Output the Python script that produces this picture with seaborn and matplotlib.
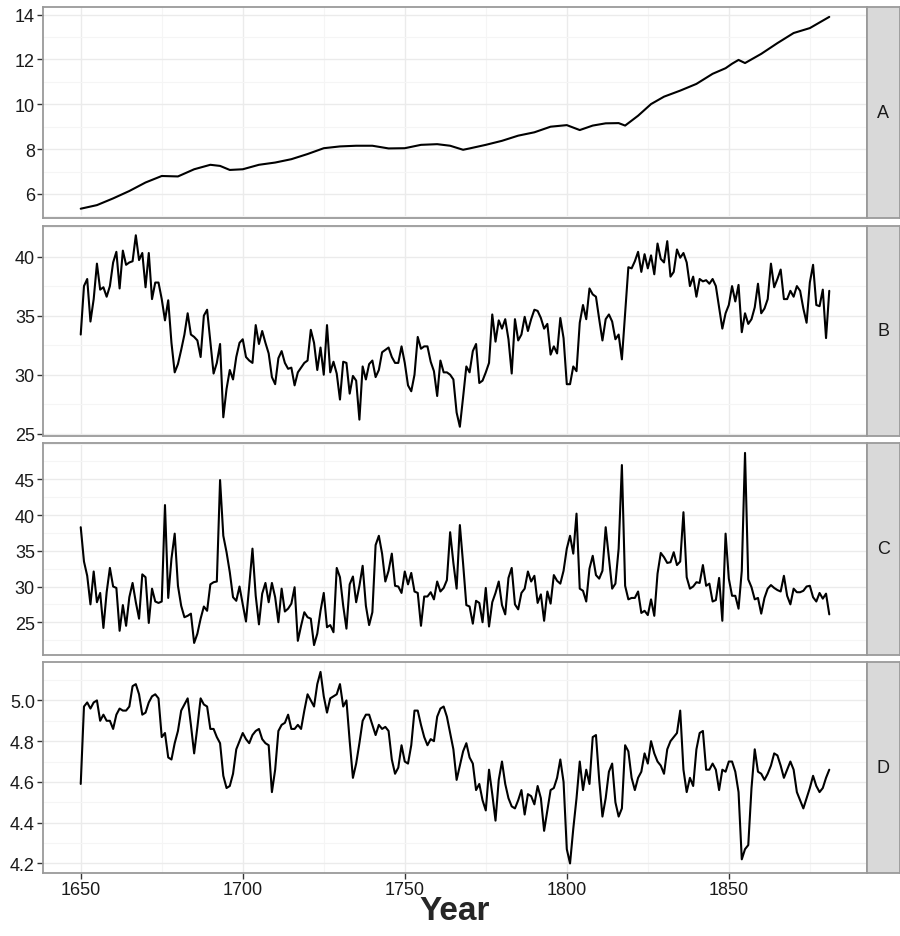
import numpy as np
import pandas as pd
import matplotlib
matplotlib.use("Agg")
import matplotlib.pyplot as plt
import seaborn as sns
from matplotlib.ticker import MultipleLocator

# years for the noisy series B, C, D (one value per year)
years = np.arange(1650, 1882)

# series A is smooth, read every few years
a_years = [1650, 1655, 1660, 1665, 1670, 1675, 1680, 1685, 1690, 1693,
           1696, 1700, 1705, 1710, 1715, 1720, 1725, 1730, 1735, 1740,
           1745, 1750, 1755, 1760, 1764, 1768, 1770, 1775, 1780, 1785,
           1790, 1795, 1800, 1804, 1808, 1812, 1816, 1818, 1822, 1826,
           1830, 1835, 1840, 1845, 1849, 1851, 1853, 1855, 1860, 1865,
           1870, 1875, 1881]
a_vals = [5.34, 5.50, 5.80, 6.13, 6.51, 6.80, 6.78, 7.10, 7.30, 7.25,
          7.07, 7.10, 7.30, 7.40, 7.55, 7.78, 8.04, 8.12, 8.15, 8.15,
          8.03, 8.04, 8.19, 8.22, 8.15, 7.97, 8.03, 8.19, 8.37, 8.60,
          8.75, 9.00, 9.07, 8.85, 9.05, 9.15, 9.16, 9.05, 9.49, 10.01,
          10.34, 10.61, 10.91, 11.36, 11.61, 11.81, 11.98, 11.84, 12.25, 12.73,
          13.18, 13.40, 13.90]

b_vals = [33.4, 37.5, 38.1, 34.5, 36.4, 39.4, 37.2, 37.4, 36.6, 37.5,
          39.5, 40.4, 37.3, 40.5, 39.3, 39.5, 39.6, 41.8, 39.7, 40.3,
          37.4, 40.3, 36.4, 37.8, 37.8, 36.4, 34.6, 36.3, 32.7, 30.2,
          30.9, 32.1, 33.4, 35.2, 33.4, 33.2, 32.9, 31.5, 35.0, 35.5,
          32.8, 30.1, 31.0, 32.6, 26.4, 28.8, 30.4, 29.6, 31.5, 32.7,
          33.0, 31.5, 31.2, 31.0, 34.2, 32.6, 33.7, 32.7, 31.8, 29.8,
          29.2, 31.4, 32.0, 31.0, 30.5, 30.6, 29.1, 30.2, 30.6, 31.0,
          31.2, 33.8, 32.7, 30.4, 32.3, 30.0, 34.2, 30.2, 31.1, 30.1,
          27.9, 31.1, 31.0, 28.4, 29.9, 29.5, 26.2, 30.7, 29.6, 30.9,
          31.2, 29.8, 30.4, 31.9, 32.1, 32.3, 31.5, 31.0, 31.0, 32.4,
          31.0, 29.1, 28.6, 30.0, 33.2, 32.2, 32.4, 32.4, 31.1, 30.3,
          28.2, 31.2, 30.2, 30.2, 30.0, 29.6, 26.8, 25.6,
          28.1, 30.7, 30.2, 32.0, 32.6, 29.3, 29.5, 30.2, 31.0, 35.1,
          32.8, 34.6, 33.9, 34.7, 33.0, 30.1, 34.7, 32.9, 33.4, 34.9,
          33.7, 34.7, 35.5, 35.4, 34.8, 33.9, 34.3, 31.7, 32.4, 31.8,
          34.8, 33.1, 29.2, 29.2, 30.7, 30.3, 34.4, 35.9, 34.7, 37.3,
          36.8, 36.6, 34.7, 32.9, 34.7, 35.1, 34.5, 33.0, 33.4, 31.3,
          35.2, 39.1, 39.0, 39.6, 40.4, 38.7, 40.2, 39.0, 40.1, 38.5,
          41.1, 39.8, 39.5, 41.3, 38.3, 38.7, 40.6, 39.9, 40.3, 39.5,
          37.5, 38.3, 36.6, 38.1, 37.9, 38.0, 37.7, 38.1, 37.5, 35.7,
          33.9, 35.2, 35.9, 37.5, 36.2, 37.6, 33.6, 35.2, 34.3, 34.7,
          35.7, 37.7, 35.2, 35.6, 36.4, 39.4, 37.4, 38.1, 38.9, 36.4,
          36.4, 37.1, 36.6, 37.5, 37.1, 35.6, 34.4, 37.8, 39.3, 35.9,
          35.8, 37.2, 33.1, 37.1]

c_vals = [38.3, 33.5, 31.5, 27.5, 32.1, 27.8, 29.1, 24.2, 29.2, 32.6,
          30.0, 29.8, 23.8, 27.4, 24.5, 28.5, 30.5, 27.8, 25.5, 31.7,
          31.3, 24.9, 29.7, 27.9, 27.7, 27.9, 41.4, 28.4, 33.9, 37.4,
          30.1, 27.3, 25.7, 25.9, 26.2, 22.1, 23.4, 25.5, 27.2, 26.6,
          30.3, 30.6, 30.7, 44.9, 37.1, 34.8, 32.0, 28.5, 28.0, 30.0,
          27.5, 25.1, 30.1, 35.3, 28.7, 24.7, 29.0, 30.5, 27.8, 30.5,
          28.5, 25.0, 29.7, 26.5, 26.9, 27.6, 29.9, 22.4, 24.5, 26.4,
          25.7, 25.5, 21.8, 23.4, 26.6, 29.1, 24.3, 24.6, 23.6, 32.6,
          31.3, 27.3, 24.1, 30.3, 31.4, 27.8, 30.1, 32.9, 27.3, 24.6,
          26.4, 35.8, 37.1, 34.6, 30.7, 32.2, 34.6, 30.1, 30.0, 29.1,
          32.1, 30.3, 31.9, 29.3, 29.1, 24.5, 28.6, 28.6, 29.2, 28.2,
          30.7, 29.3, 29.8, 30.9, 37.6, 33.3, 29.7, 38.6,
          33.2, 27.4, 27.2, 24.8, 28.0, 27.7, 25.0, 29.8, 24.4, 27.8,
          29.1, 30.7, 27.4, 26.1, 31.2, 32.6, 27.5, 26.8, 29.1, 29.7,
          32.1, 30.7, 31.5, 27.7, 28.9, 25.2, 29.3, 27.6, 31.6, 30.8,
          30.4, 32.2, 35.3, 37.1, 34.6, 40.2, 29.7, 29.4, 27.9, 32.5,
          34.3, 31.6, 31.1, 32.2, 38.3, 34.0, 29.7, 30.4, 35.3, 47.0,
          30.1, 28.2, 28.4, 28.4, 29.3, 26.3, 26.6, 26.0, 28.2, 25.9,
          31.8, 34.7, 34.1, 33.3, 33.4, 34.8, 33.0, 33.5, 40.4, 31.3,
          29.7, 30.0, 30.6, 30.5, 33.0, 30.1, 30.4, 27.9, 28.1, 31.2,
          25.2, 37.4, 31.1, 28.7, 28.7, 26.9, 32.2, 48.7, 31.0, 29.9,
          28.2, 28.4, 26.2, 28.4, 29.7, 30.2, 29.8, 29.5, 29.3, 31.5,
          28.7, 27.5, 29.7, 29.2, 29.2, 29.4, 30.0, 30.1, 28.5, 27.9,
          29.1, 28.3, 29.0, 26.1]

d_vals = [4.59, 4.97, 4.99, 4.96, 4.99, 5.00, 4.90, 4.93, 4.90, 4.90,
          4.86, 4.93, 4.96, 4.95, 4.95, 4.97, 5.07, 5.08, 5.03, 4.93,
          4.94, 4.99, 5.02, 5.03, 5.01, 4.82, 4.84, 4.72, 4.71, 4.79,
          4.85, 4.95, 4.98, 5.01, 4.88, 4.74, 4.87, 5.01, 4.98, 4.97,
          4.86, 4.86, 4.82, 4.79, 4.63, 4.57, 4.58, 4.64, 4.76, 4.80,
          4.84, 4.81, 4.79, 4.83, 4.85, 4.86, 4.81, 4.79, 4.78, 4.55,
          4.66, 4.85, 4.88, 4.89, 4.93, 4.86, 4.86, 4.88, 4.86, 4.95,
          5.03, 5.00, 4.97, 5.08, 5.14, 5.02, 4.94, 5.01, 5.02, 5.03,
          5.08, 4.97, 5.00, 4.80, 4.62, 4.69, 4.79, 4.90, 4.93, 4.93,
          4.88, 4.83, 4.88, 4.86, 4.87, 4.85, 4.71, 4.64, 4.67, 4.78,
          4.70, 4.69, 4.78, 4.95, 4.95, 4.88, 4.82, 4.78, 4.81, 4.80,
          4.92, 4.96, 4.97, 4.92, 4.84, 4.76, 4.61, 4.68,
          4.75, 4.79, 4.72, 4.69, 4.56, 4.59, 4.51, 4.46, 4.66, 4.54,
          4.41, 4.61, 4.70, 4.59, 4.52, 4.48, 4.47, 4.51, 4.56, 4.44,
          4.54, 4.53, 4.49, 4.58, 4.52, 4.36, 4.46, 4.56, 4.57, 4.62,
          4.71, 4.60, 4.27, 4.20, 4.37, 4.52, 4.70, 4.56, 4.66, 4.59,
          4.82, 4.83, 4.61, 4.43, 4.52, 4.65, 4.69, 4.50, 4.43, 4.47,
          4.78, 4.75, 4.62, 4.56, 4.62, 4.65, 4.74, 4.69, 4.80, 4.74,
          4.70, 4.68, 4.64, 4.76, 4.80, 4.82, 4.84, 4.95, 4.66, 4.55,
          4.62, 4.58, 4.76, 4.84, 4.85, 4.66, 4.66, 4.69, 4.66, 4.56,
          4.66, 4.65, 4.70, 4.70, 4.65, 4.55, 4.22, 4.27, 4.29, 4.57,
          4.76, 4.65, 4.64, 4.61, 4.64, 4.68, 4.74, 4.73, 4.68, 4.62,
          4.66, 4.70, 4.66, 4.55, 4.51, 4.47, 4.52, 4.57, 4.63, 4.58,
          4.55, 4.57, 4.62, 4.66]

labels = ["A", "B", "C", "D"]
y_ticks = [[6, 8, 10, 12, 14], [25, 30, 35, 40], [25, 30, 35, 40, 45],
           [4.2, 4.4, 4.6, 4.8, 5.0]]
y_minor = [1, 2.5, 2.5, 0.1]
x_ticks = [1650, 1700, 1750, 1800, 1850]

sns.set_theme(style="white")
plt.rcParams['font.family'] = ['Liberation Sans', 'DejaVu Sans']

fig = plt.figure(figsize=(9, 9.37), dpi=100)

W, H = 900.0, 937.0
left, right = 43.3, 866.7
panels = [(8.3, 219.3), (226.7, 437.3), (444.3, 655.7), (663.3, 874.0)]
series = [(a_years, a_vals), (years, b_vals), (years, c_vals), (years, d_vals)]

border = "#9a9a9a"
for i, (top, bot) in enumerate(panels):
    ax = fig.add_axes([left / W, 1 - bot / H, (right - left) / W, (bot - top) / H])
    xs, ys = series[i]
    sns.lineplot(x=xs, y=ys, ax=ax, color="black", linewidth=1.5)

    lo, hi = min(ys), max(ys)
    pad = (hi - lo) * 0.05
    ax.set_ylim(lo - pad, hi + pad)
    ax.set_xlim(1650 - 231 * 0.05, 1881 + 231 * 0.05)

    ax.set_yticks(y_ticks[i])
    ax.set_yticklabels([f"{t:g}" if i != 3 else f"{t:.1f}" for t in y_ticks[i]])
    ax.yaxis.set_minor_locator(MultipleLocator(y_minor[i]))
    ax.set_xticks(x_ticks)
    ax.xaxis.set_minor_locator(MultipleLocator(25))

    ax.grid(which="major", color="#ebebeb", linewidth=1.0)
    ax.grid(which="minor", color="#f5f5f5", linewidth=0.8)
    ax.set_axisbelow(True)
    ax.set_facecolor("white")
    for sp in ax.spines.values():
        sp.set_color(border)
        sp.set_linewidth(1.3)

    ax.tick_params(axis="y", which="major", left=True, length=4, width=1,
                   color="#333333", labelsize=13, labelcolor="#1a1a1a", pad=2)
    ax.tick_params(axis="both", which="minor", length=0)
    if i == 3:
        ax.tick_params(axis="x", which="major", bottom=True, length=4, width=1,
                       color="#333333", labelsize=13, labelcolor="#1a1a1a", pad=2)
    else:
        ax.tick_params(axis="x", which="major", bottom=False, labelbottom=False)
    ax.set_xlabel("")
    ax.set_ylabel("")

    # strip on the right side
    sx = fig.add_axes([right / W, 1 - bot / H, (W - right) / W, (bot - top) / H])
    sx.set_facecolor("#d9d9d9")
    sx.set_xticks([])
    sx.set_yticks([])
    for sp in sx.spines.values():
        sp.set_color(border)
        sp.set_linewidth(1.3)
    sx.text(0.5, 0.5, labels[i], ha="center", va="center", fontsize=13,
            color="#1a1a1a", transform=sx.transAxes)

fig.text((left + right) / 2 / W, 1 - 912 / H, "Year", ha="center", va="center",
         fontsize=24, fontweight="bold")

fig.savefig("out.png", dpi=100)
